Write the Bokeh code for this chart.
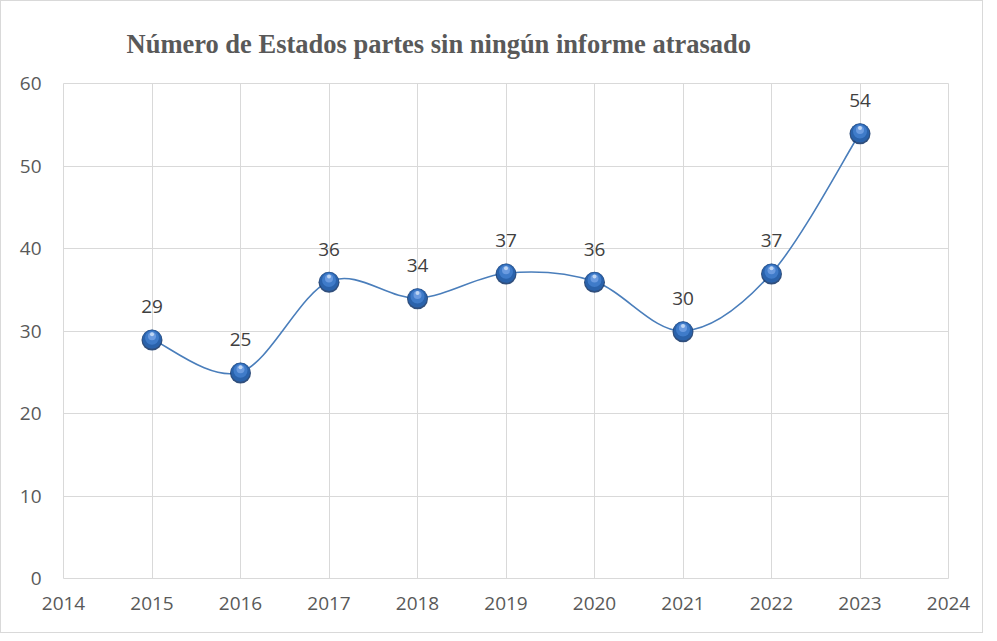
import numpy as np
from bokeh.plotting import figure
from bokeh.models import Range1d, FixedTicker, Title
from bokeh.embed import file_html
from bokeh.resources import INLINE
from bokeh.core.properties import value

years = [2015, 2016, 2017, 2018, 2019, 2020, 2021, 2022, 2023]
counts = [29, 25, 36, 34, 37, 36, 30, 37, 54]
x_ticks = [2014, 2015, 2016, 2017, 2018, 2019, 2020, 2021, 2022, 2023, 2024]
y_ticks = [0, 10, 20, 30, 40, 50, 60]
title_text = "Número de Estados partes sin ningún informe atrasado"

W, H = 983, 633
p = figure(width=W, height=H, output_backend="svg", toolbar_location=None,
           x_range=Range1d(2014, 2024), y_range=Range1d(0, 60),
           min_border_left=62, min_border_right=36, min_border_top=82, min_border_bottom=56)
p.styles = {"border": "1px solid #d9d9d9"}

p.title = Title(text=title_text, align="left", offset=63, standoff=50,
                text_font="Liberation Serif", text_font_size="26.5px",
                text_font_style="bold", text_color="#595959")

grid_col = "#d9d9d9"
p.outline_line_color = grid_col
p.outline_line_width = 1
for g in (p.xgrid, p.ygrid):
    g.grid_line_color = grid_col
    g.grid_line_width = 1
p.xgrid.ticker = FixedTicker(ticks=x_ticks)
p.ygrid.ticker = FixedTicker(ticks=y_ticks)

for ax in (p.xaxis, p.yaxis):
    ax.axis_line_color = None
    ax.major_tick_line_color = None
    ax.minor_tick_line_color = None
    ax.major_label_text_font = "Open Sans"
    ax.major_label_text_font_size = "19px"
    ax.major_label_text_color = "#595959"
p.xaxis.ticker = FixedTicker(ticks=x_ticks)
p.yaxis.ticker = FixedTicker(ticks=y_ticks)
p.xaxis.major_label_standoff = 12
p.yaxis.major_label_standoff = 16

# smoothed line (Catmull-Rom style Bezier segments, like spreadsheet smoothing)
xs = np.array(years, dtype=float)
ys = np.array(counts, dtype=float)
n = len(xs)
xp = np.concatenate([[xs[0]], xs, [xs[-1]]])
yp = np.concatenate([[ys[0]], ys, [ys[-1]]])
k = 1.0 / 6.0
cx0 = xs[:-1] + (xp[2:n + 1] - xp[0:n - 1]) * k
cy0 = ys[:-1] + (yp[2:n + 1] - yp[0:n - 1]) * k
cx1 = xs[1:] - (xp[3:n + 2] - xp[1:n]) * k
cy1 = ys[1:] - (yp[3:n + 2] - yp[1:n]) * k
p.bezier(x0=xs[:-1], y0=ys[:-1], x1=xs[1:], y1=ys[1:],
         cx0=cx0, cy0=cy0, cx1=cx1, cy1=cy1,
         line_color="#4a7ebb", line_width=1.6)

# sphere-like markers
px = 60.0 / 495.0
p.scatter(x=years, y=[c - 0.8 * px for c in counts], size=21, fill_color="#1b3c6e", line_color=None, fill_alpha=0.9)
p.scatter(x=years, y=counts, size=19, fill_color="#2a62ab", line_color=None)
p.scatter(x=years, y=[c + 1.5 * px for c in counts], size=14, fill_color="#3f7bc9", line_color=None)
p.scatter(x=years, y=[c + 3 * px for c in counts], size=8, fill_color="#6b9be0", line_color=None)
p.scatter(x=years, y=[c + 5 * px for c in counts], size=4, fill_color="#c8dcf5", line_color=None, fill_alpha=0.9)

# data labels
p.text(x=years, y=[c + 26 * px for c in counts], text=[str(c) for c in counts],
       text_font=value("Open Sans"), text_font_size="19px", text_color="#404040",
       text_align="center", text_baseline="bottom")

open("out.html", "w").write(file_html(p, INLINE))
